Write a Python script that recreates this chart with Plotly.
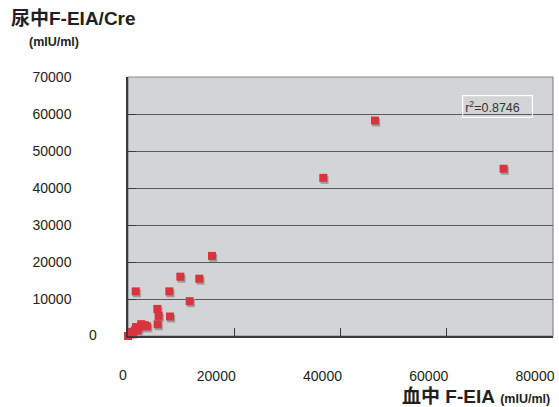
import plotly.graph_objects as go

# Data
blood_feia = [0, 400, 850, 1300, 1700, 2070, 2450, 2820, 3200,
              1000, 500, 1800, 1500, 2500, 3600,
              5580, 5770, 7900, 5520, 11610, 1450, 7780, 9850, 13420,
              15810, 36760, 46490, 70700]
urine_feia_cre = [0, 450, 1000, 1550, 1950, 2360, 2770, 2900, 2900,
                  500, 1100, 1500, 2400, 3200, 2600,
                  3180, 5430, 5270, 7330, 9420, 12060, 12060, 16030, 15480,
                  21650, 42750, 58230, 45200]

x_ticks = [20000, 40000, 60000, 80000]
x_ticktext = ["20000", "40000", "60000", "80000"]
y_ticks = [10000, 20000, 30000, 40000, 50000, 60000, 70000]
y_ticktext = ["10000", "20000", "30000", "40000", "50000", "60000", "70000"]
x_range = [0, 80000]
y_range = [0, 70000]
r2_text = "r<sup>2</sup>=0.8746"

W, H = 559, 407
ML, MR, MT, MB = 128, 6, 77, 71
pw, ph = W - ML - MR, H - MT - MB

# shadow offset (pixels -> data units)
dx = (x_range[1] - x_range[0]) / pw * 1.2
dy = (y_range[1] - y_range[0]) / ph * 2.0

fig = go.Figure()
fig.add_trace(go.Scatter(
    x=[v + dx for v in blood_feia], y=[v - dy for v in urine_feia_cre],
    mode="markers", cliponaxis=False, hoverinfo="skip",
    marker=dict(symbol="square", size=8, color="#9c9c9e", line=dict(width=0)),
    showlegend=False))
fig.add_trace(go.Scatter(
    x=blood_feia, y=urine_feia_cre, mode="markers", cliponaxis=False,
    marker=dict(symbol="square", size=8, color="#d9343e", line=dict(width=0)),
    showlegend=False))

tick_font = dict(family="Liberation Sans, Arial, sans-serif", size=14, color="#231f20")

fig.update_layout(
    width=W, height=H,
    margin=dict(l=ML, r=MR, t=MT, b=MB, pad=0),
    paper_bgcolor="white", plot_bgcolor="#d3d4d6",
    xaxis=dict(range=x_range, tickvals=x_ticks, ticktext=x_ticktext,
               showgrid=False, zeroline=False, automargin=False,
               showline=True, linecolor="#3a3a3a", linewidth=1.5,
               ticks="inside", ticklen=8, tickcolor="#3a3a3a", tickwidth=1,
               tickfont=tick_font, ticklabelstandoff=26, ticklabelshift=-18),
    yaxis=dict(range=y_range, tickvals=y_ticks, ticktext=y_ticktext,
               showgrid=True, gridcolor="#5a5a5a", gridwidth=1.2,
               zeroline=False, automargin=False,
               showline=True, linecolor="#3a3a3a", linewidth=1.5,
               ticks="inside", ticklen=8, tickcolor="#3a3a3a", tickwidth=1,
               tickfont=tick_font, ticklabelstandoff=52),
)

# gray frame on top/right
fig.add_shape(type="rect", xref="paper", yref="paper", x0=0, x1=1, y0=0, y1=1,
              line=dict(color="#8a8a8a", width=1.2), layer="below")

title_font = "Liberation Sans, Noto Sans CJK JP, sans-serif"
annotations = [
    dict(text="<b>尿中F-EIA/Cre</b>", xref="paper", yref="paper",
         x=-ML / pw + 9 / pw, y=1 + (MT - 18) / ph, xanchor="left", yanchor="middle",
         showarrow=False, font=dict(family=title_font, size=19, color="#231f20")),
    dict(text="<b>(mIU/ml)</b>", xref="paper", yref="paper",
         x=-ML / pw + 27 / pw, y=1 + (MT - 42) / ph, xanchor="left", yanchor="middle",
         showarrow=False, font=dict(family=title_font, size=12.5, color="#231f20")),
    dict(text="<b>血中 F-EIA</b> <span style='font-size:12.5px'><b>(mIU/ml)</b></span>",
         xref="paper", yref="paper",
         x=1 + (MR - 7) / pw, y=-(396 - MT - ph) / ph, xanchor="right", yanchor="middle",
         showarrow=False, font=dict(family=title_font, size=19, color="#231f20")),
    dict(text="0", xref="paper", yref="paper",
         x=(99 - ML) / pw, y=-(335 - MT - ph) / ph, xanchor="right", yanchor="middle",
         showarrow=False, font=tick_font),
    dict(text="0", xref="paper", yref="paper",
         x=(123 - ML) / pw, y=-(375 - MT - ph) / ph, xanchor="center", yanchor="middle",
         showarrow=False, font=tick_font),
    dict(text=r2_text, xref="paper", yref="paper",
         x=(462 - ML) / pw, y=1 - (95 - MT) / ph, xanchor="left", yanchor="top",
         showarrow=False, align="left", width=65, height=17, borderpad=2,
         bordercolor="white", borderwidth=1.2,
         font=dict(family="Liberation Sans, Arial, sans-serif", size=12.5, color="#333333")),
]
fig.update_layout(annotations=annotations)

fig.write_html("out.html", config={"displayModeBar": False},
               post_script="document.body.style.margin='0';document.body.style.padding='0';"
                           "document.documentElement.style.overflow='hidden';")
